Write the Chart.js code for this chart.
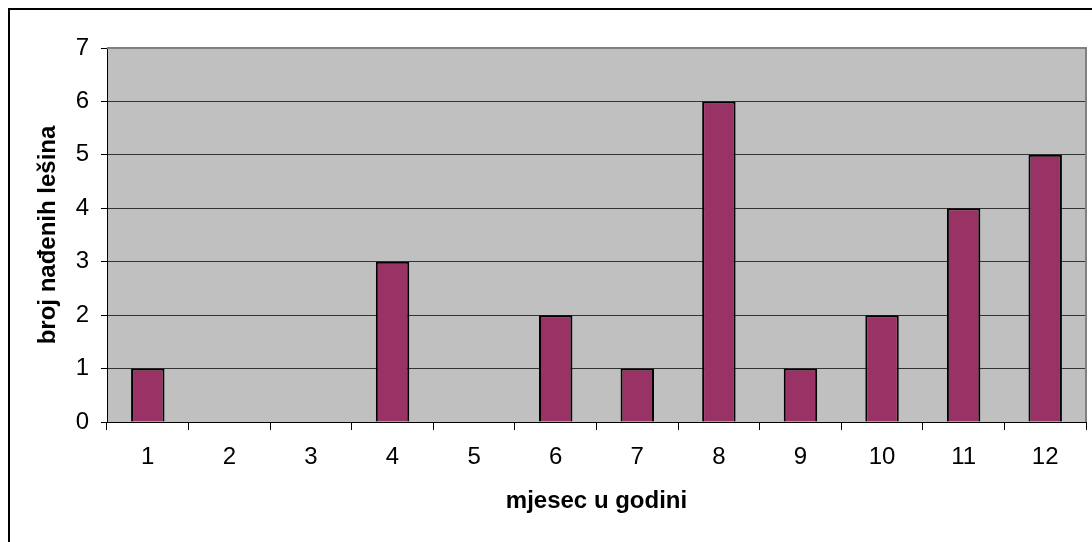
<!DOCTYPE html>
<html>
<head>
<meta charset="utf-8">
<script src="https://cdn.jsdelivr.net/npm/chart.js@4/dist/chart.umd.min.js"></script>
<style>
  html, body { margin: 0; padding: 0; background: #fff; overflow: hidden; width: 1092px; height: 542px; }
  #frame { position: absolute; left: 8px; top: 8px; width: 1100px; height: 600px; border: 2px solid #000; box-sizing: border-box; }
  #c { position: absolute; left: 0; top: 0; }
</style>
</head>
<body>
<div id="frame"></div>
<canvas id="c" width="1092" height="542"></canvas>
<script>
// Monthly counts of found carcasses
const months = ['1', '2', '3', '4', '5', '6', '7', '8', '9', '10', '11', '12'];
const counts = [1, 0, 0, 3, 0, 2, 1, 6, 1, 2, 4, 5];
const yTicks = [0, 1, 2, 3, 4, 5, 6, 7];

const FONT = '"Liberation Sans", Arial, sans-serif';

// Gray plot background with a gray top/right frame
const plotFrame = {
  id: 'plotFrame',
  beforeDraw(chart) {
    const { ctx, chartArea: a } = chart;
    ctx.save();
    ctx.fillStyle = '#C0C0C0';
    ctx.fillRect(a.left, a.top, a.right - a.left, a.bottom - a.top);
    ctx.restore();
  },
  afterDraw(chart) {
    const { ctx, chartArea: a } = chart;
    ctx.save();
    ctx.strokeStyle = '#808080';
    ctx.lineWidth = 2;
    ctx.beginPath();
    ctx.moveTo(a.left, a.top);
    ctx.lineTo(a.right, a.top);
    ctx.lineTo(a.right, a.bottom);
    ctx.stroke();
    ctx.restore();
  }
};

new Chart(document.getElementById('c'), {
  type: 'bar',
  data: {
    labels: months,
    datasets: [{
      data: counts,
      backgroundColor: '#993366',
      borderColor: '#000000',
      borderWidth: 2,
      barPercentage: 0.41,
      categoryPercentage: 1.0
    }]
  },
  options: {
    responsive: false,
    animation: false,
    layout: { padding: { top: 48, right: 6, left: 0, bottom: 0 } },
    plugins: { legend: { display: false }, tooltip: { enabled: false } },
    scales: {
      x: {
        afterFit(scale) { scale.height = 120; },
        grid: { display: true, drawOnChartArea: false, offset: true, tickLength: 8, tickColor: '#000', tickWidth: 1 },
        border: { display: true, color: '#000', width: 1 },
        ticks: { color: '#000', font: { family: FONT, size: 24 }, padding: 13, maxRotation: 0, autoSkip: false },
        title: {
          display: true,
          text: 'mjesec u godini',
          color: '#000',
          font: { family: FONT, size: 24, weight: 'bold' },
          padding: { top: 0, bottom: 26 }
        }
      },
      y: {
        min: 0,
        max: 7,
        afterFit(scale) { scale.width = 107; },
        afterBuildTicks(scale) { scale.ticks = yTicks.map(v => ({ value: v })); },
        grid: { color: '#333333', lineWidth: 1, tickLength: 6, tickColor: '#000' },
        border: { display: true, color: '#000', width: 1 },
        ticks: { color: '#000', font: { family: FONT, size: 24 }, padding: 12, stepSize: 1 },
        title: {
          display: true,
          text: 'broj nađenih lešina',
          color: '#000',
          font: { family: FONT, size: 24, weight: 'bold' },
          padding: { top: 34, bottom: 0 }
        }
      }
    }
  },
  plugins: [plotFrame]
});
</script>
</body>
</html>
